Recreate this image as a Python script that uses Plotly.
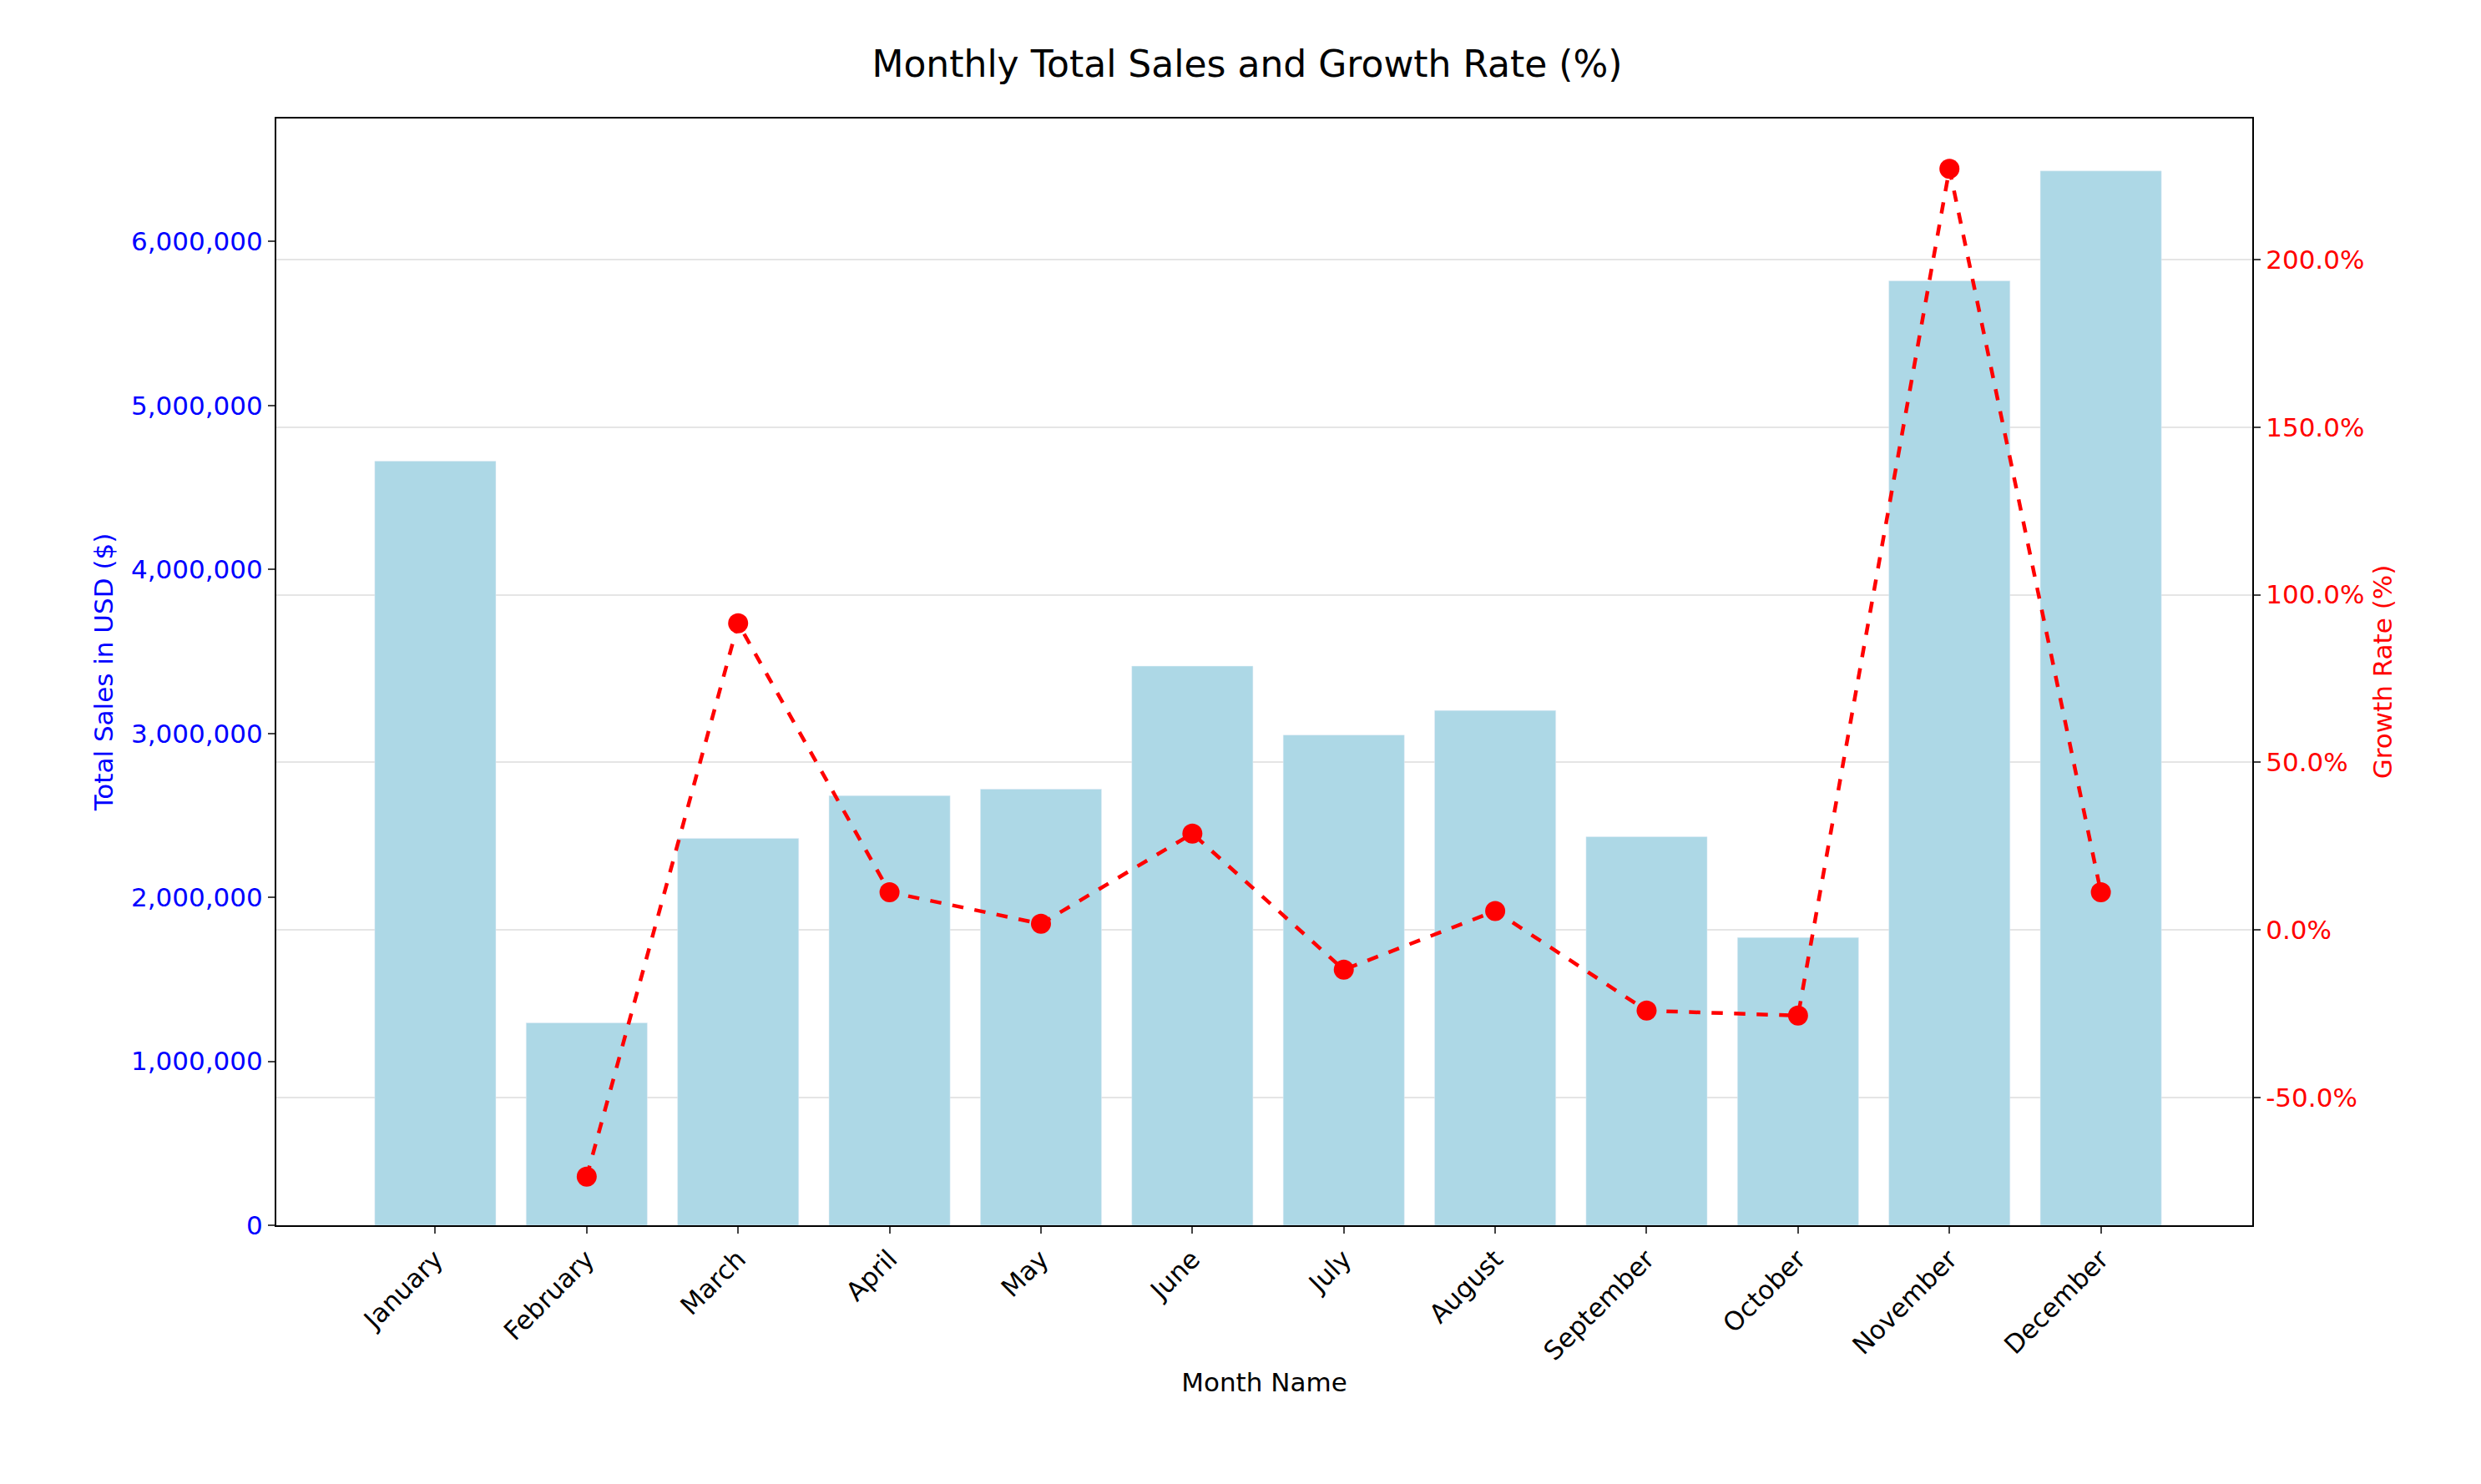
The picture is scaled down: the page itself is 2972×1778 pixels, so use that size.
import plotly.graph_objects as go

months = ["January","February","March","April","May","June","July","August","September","October","November","December"]
sales = [4660000,1235000,2360000,2620000,2660000,3410000,2990000,3140000,2370000,1755000,5760000,6430000]
growth = [None,-73.5,91.5,11.3,1.9,28.8,-11.8,5.7,-24.0,-25.5,227.0,11.3]

fig = go.Figure()
fig.add_trace(go.Bar(x=months, y=sales, marker_color="lightblue", width=0.8, yaxis="y", showlegend=False))
fig.add_trace(go.Scatter(x=months, y=growth, yaxis="y2", mode="lines+markers",
                         line=dict(color="red", dash="dash", width=4.5),
                         marker=dict(color="red", size=24), showlegend=False, connectgaps=False))

fs = 31
fig.update_layout(
    width=2972, height=1778, plot_bgcolor="white", paper_bgcolor="white",
    margin=dict(l=323, r=282, t=134, b=318),
    font=dict(family="DejaVu Sans", size=fs, color="black"),
    title=dict(text="Monthly Total Sales and Growth Rate (%)", x=0.5, xanchor="center", y=0.97, font=dict(size=44)),
    xaxis=dict(title=dict(text="Month Name", font=dict(size=fs), standoff=10), tickangle=-45, showline=True, linecolor="black",
               linewidth=2, mirror=True, ticks="outside", ticklen=8, tickwidth=2, range=[-1.05, 12.0]),
    yaxis=dict(title=dict(text="Total Sales in USD ($)", font=dict(color="blue", size=fs), standoff=12), range=[0, 6750000],
               tickformat=",d", dtick=1000000, tickfont=dict(color="blue"), showgrid=False,
               showline=True, linecolor="black", linewidth=2, ticks="outside", ticklen=8, tickwidth=2, zeroline=False),
    yaxis2=dict(title=dict(text="Growth Rate (%)", font=dict(color="red", size=fs), standoff=12), overlaying="y", side="right",
                range=[-88, 242], tickvals=[-50,0,50,100,150,200], ticktext=["-50.0%","0.0%","50.0%","100.0%","150.0%","200.0%"],
                tickfont=dict(color="red"), showgrid=True, gridcolor="rgba(0,0,0,0.1)", gridwidth=1.5,
                showline=True, linecolor="black", linewidth=2, ticks="outside", ticklen=8, tickwidth=2, zeroline=False),
)
fig.write_html("out.html")
